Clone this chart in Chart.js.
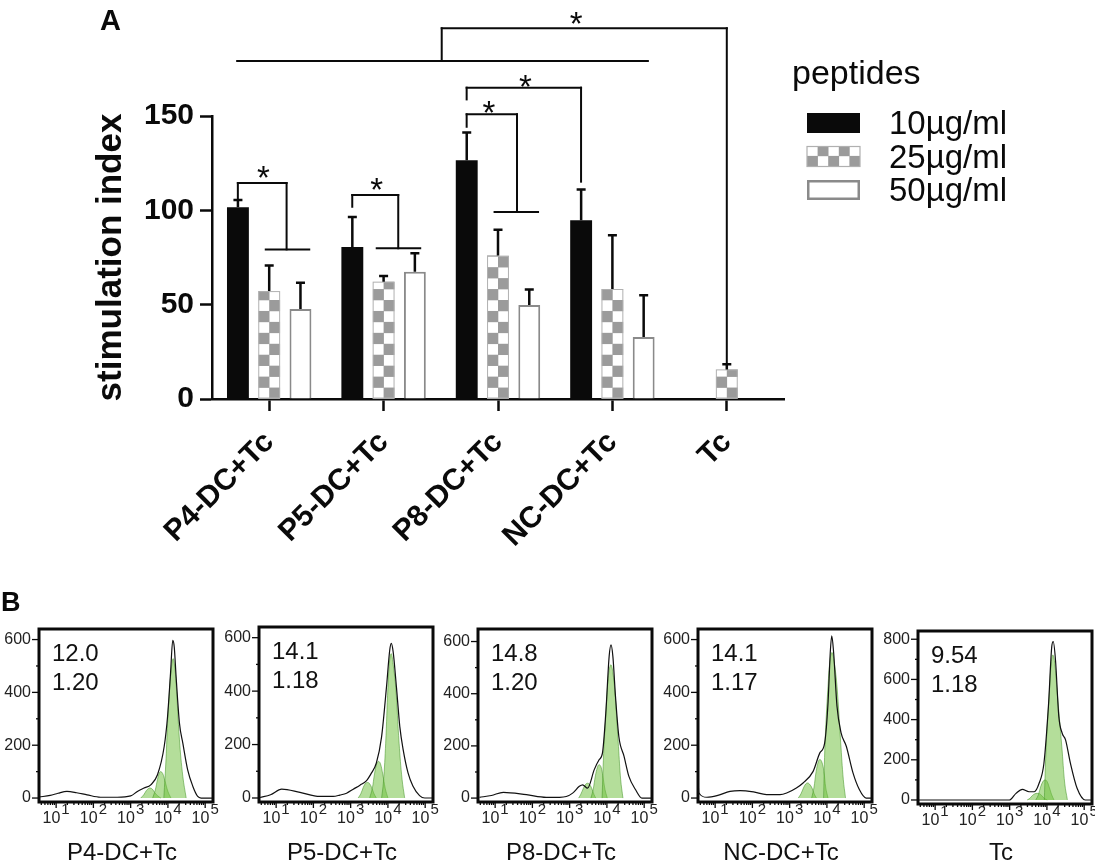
<!DOCTYPE html>
<html>
<head>
<meta charset="utf-8">
<script src="https://cdn.jsdelivr.net/npm/chart.js@4.4.0/dist/chart.umd.min.js"></script>
<style>
html,body{margin:0;padding:0;background:#fff;overflow:hidden;width:1095px;height:868px;}
#wrap{position:relative;width:1095px;height:868px;overflow:hidden;}
canvas{position:absolute;}
</style>
</head>
<body>
<div id="wrap">
<canvas id="cA" width="1095" height="590" style="left:0;top:0;"></canvas>
<canvas id="h0" width="220" height="278" style="left:0;top:590px;"></canvas>
<canvas id="h1" width="220" height="278" style="left:220px;top:590px;"></canvas>
<canvas id="h2" width="220" height="278" style="left:439px;top:590px;"></canvas>
<canvas id="h3" width="220" height="278" style="left:659px;top:590px;"></canvas>
<canvas id="h4" width="220" height="278" style="left:879px;top:590px;"></canvas>
</div>
<script>
// ---------------- DATA: panel A ----------------
const categories = ['P4-DC+Tc', 'P5-DC+Tc', 'P8-DC+Tc', 'NC-DC+Tc', 'Tc'];
const legendTitle = 'peptides';
const seriesNames = ['10µg/ml', '25µg/ml', '50µg/ml'];
const mean10 = [101.6, 80.6, 126.5, 94.7, null];
const mean25 = [57.2, 62.2, 76.0, 58.3, 15.7];
const mean50 = [47.7, 67.5, 49.8, 32.9, null];
const sd10 = [3.9, 15.9, 14.8, 16.4, null];
const sd25 = [13.5, 3.0, 13.7, 28.5, 2.7];
const sd50 = [13.9, 9.7, 8.3, 22.1, null];
const yTicksA = [0, 50, 100, 150];

// significance brackets, in data units (x = category index, y = stimulation index)
const bracketSegments = [
  [-0.274, 105.5, -0.274, 114.5], [-0.274, 114.5, 0.152, 114.5], [0.152, 114.5, 0.152, 79.3], [-0.03, 79.3, 0.35, 79.3],
  [0.726, 101.9, 0.726, 108.1], [0.726, 108.1, 1.128, 108.1], [1.128, 108.1, 1.128, 79.9], [0.94, 79.9, 1.32, 79.9],
  [1.726, 144.3, 1.726, 150.9], [1.726, 150.9, 2.166, 150.9], [2.166, 150.9, 2.166, 99.1], [1.97, 99.1, 2.35, 99.1],
  [1.726, 158.8, 1.726, 165.0], [1.726, 165.0, 2.726, 165.0], [2.726, 165.0, 2.726, 115.2],
  [-0.28, 179.2, 3.31, 179.2], [1.508, 179.2, 1.508, 196.5], [1.508, 196.5, 4.0, 196.5], [4.0, 196.5, 4.0, 18.9]
];
const starMarks = [[-0.05, 121.0], [0.94, 114.6], [1.92, 155.3], [2.24, 169.1], [2.683, 202.6]];

// ---------------- DATA: panel B (x in log10 decades, y = count) ----------------
const histTitles = ['P4-DC+Tc', 'P5-DC+Tc', 'P8-DC+Tc', 'NC-DC+Tc', 'Tc'];
const histStat1 = ['12.0', '14.1', '14.8', '14.1', '9.54'];
const histStat2 = ['1.20', '1.18', '1.20', '1.17', '1.18'];
const decadeTicks = [1, 2, 3, 4, 5];
const decadeSup = ['1', '2', '3', '4', '5'];
const yTicksHist = [0, 200, 400, 600];
const yTicksHistTc = [0, 200, 400, 600, 800];
const yMinorHist = [100, 300, 500];
const yMinorHistTc = [100, 300, 500, 700];

const p4Outline = [[0.55,4],[0.84,10],[1.05,18],[1.29,25],[1.55,20],[1.83,12],[2.19,3],[2.64,3],[3.00,8],[3.18,25],[3.36,38],[3.54,50],[3.72,88],[3.90,195],[3.99,308],[4.07,472],[4.13,597],[4.17,572],[4.22,459],[4.31,283],[4.40,208],[4.53,107],[4.67,44],[4.80,6],[4.89,0],[5.21,0]];
const p4Peaks = [
  [[3.89,0],[3.95,150],[3.99,283],[4.05,420],[4.10,500],[4.14,528],[4.18,500],[4.22,434],[4.31,220],[4.40,82],[4.49,0]],
  [[3.59,0],[3.66,30],[3.72,70],[3.77,95],[3.81,100],[3.86,93],[3.92,65],[4.00,25],[4.08,0]],
  [[3.27,0],[3.35,12],[3.42,28],[3.48,36],[3.52,38],[3.58,34],[3.65,20],[3.73,8],[3.81,0]]
];
const p5Outline = [[0.57,2],[0.85,12],[1.15,33],[1.64,21],[2.17,6],[2.53,6],[2.71,11],[2.89,18],[3.07,33],[3.25,48],[3.42,64],[3.56,94],[3.69,131],[3.83,229],[3.96,413],[4.05,555],[4.09,579],[4.14,548],[4.23,413],[4.32,266],[4.41,180],[4.54,94],[4.67,45],[4.85,9],[4.99,0],[5.21,0]];
const p5Peaks = [
  [[3.83,0],[3.88,60],[3.94,205],[4.00,413],[4.05,520],[4.09,540],[4.14,500],[4.21,413],[4.30,205],[4.38,70],[4.45,0]],
  [[3.51,0],[3.58,35],[3.64,90],[3.70,128],[3.75,137],[3.80,128],[3.86,90],[3.93,35],[4.00,0]],
  [[3.20,0],[3.27,15],[3.34,40],[3.40,55],[3.45,58],[3.50,55],[3.56,40],[3.63,15],[3.69,0]]
];
const p8Outline = [[0.58,3],[0.90,10],[1.22,22],[1.84,13],[2.37,3],[2.73,3],[2.91,6],[3.08,19],[3.26,45],[3.35,51],[3.48,38],[3.66,109],[3.79,147],[3.88,172],[3.97,326],[4.06,543],[4.11,587],[4.16,543],[4.23,390],[4.32,236],[4.46,160],[4.59,83],[4.77,32],[4.94,0],[5.21,0]];
const p8Peaks = [
  [[3.87,0],[3.92,198],[3.96,290],[4.01,415],[4.06,490],[4.11,511],[4.16,480],[4.21,415],[4.31,198],[4.37,70],[4.43,0]],
  [[3.57,0],[3.63,32],[3.69,85],[3.75,120],[3.79,128],[3.84,120],[3.89,85],[3.95,32],[4.01,0]],
  [[3.24,0],[3.30,15],[3.37,38],[3.43,53],[3.48,57],[3.53,53],[3.59,38],[3.65,15],[3.70,0]]
];
const ncOutline = [[0.54,90],[0.56,20],[0.78,3],[1.05,9],[1.40,25],[1.67,28],[2.03,23],[2.38,13],[2.74,13],[2.92,19],[3.18,38],[3.36,57],[3.63,101],[3.81,171],[3.94,209],[4.03,361],[4.09,551],[4.13,614],[4.18,551],[4.27,348],[4.38,247],[4.52,196],[4.70,95],[4.87,32],[5.05,0],[5.21,0]];
const ncPeaks = [
  [[3.91,0],[3.95,209],[4.03,424],[4.09,530],[4.14,551],[4.20,510],[4.27,424],[4.37,209],[4.44,70],[4.50,0]],
  [[3.59,0],[3.65,38],[3.71,100],[3.77,138],[3.81,146],[3.86,138],[3.92,100],[3.97,38],[4.03,0]],
  [[3.23,0],[3.30,15],[3.37,38],[3.43,53],[3.48,57],[3.53,53],[3.60,38],[3.66,15],[3.72,0]]
];
const tcOutline = [[0.54,0],[2.99,0],[3.17,33],[3.34,53],[3.52,41],[3.66,41],[3.79,83],[3.92,183],[4.04,465],[4.13,763],[4.17,788],[4.23,697],[4.32,415],[4.41,332],[4.50,299],[4.63,183],[4.81,58],[5.03,0],[5.21,0]];
const tcPeaks = [
  [[3.93,0],[3.98,265],[4.07,548],[4.12,690],[4.16,722],[4.21,680],[4.27,548],[4.40,265],[4.48,80],[4.55,0]],
  [[3.70,0],[3.77,25],[3.83,65],[3.90,94],[3.95,100],[4.00,94],[4.06,65],[4.13,25],[4.19,0]],
  [[3.47,0],[3.54,8],[3.61,22],[3.68,31],[3.74,33],[3.80,31],[3.86,22],[3.93,8],[4.01,0]]
];

// ---------------- styles / layout ----------------
const F = "'Liberation Sans', Arial, Helvetica, sans-serif";
Chart.defaults.font.family = F;
Chart.defaults.color = '#000';
const BLACK = '#0a0a0a';
const GRAY = '#9b9b9b';
const EDGE = '#8a8a8a';

function catX(xs, f) {
  const p0 = xs.getPixelForValue(0), p1 = xs.getPixelForValue(1);
  return p0 + f * (p1 - p0);
}
function drawChecks(ctx, left, top, w, h, s, startGrayLeft) {
  ctx.save();
  ctx.beginPath(); ctx.rect(left, top, w, h); ctx.clip();
  ctx.fillStyle = '#fff'; ctx.fillRect(left, top, w, h);
  ctx.fillStyle = GRAY;
  let row = 0;
  for (let y = top + h; y > top - s; y -= s, row++) {
    for (let c = 0; c * s < w; c++) {
      if (((row + c) % 2 === 0) === startGrayLeft) ctx.fillRect(left + c * s, y - s, s + 0.3, s + 0.3);
    }
  }
  ctx.restore();
}

const panelAPlugin = {
  id: 'panelA',
  afterDatasetsDraw(chart) {
    const ctx = chart.ctx, ys = chart.scales.y;
    chart.getDatasetMeta(1).data.forEach((bar, i) => {
      if (mean25[i] == null) return;
      const w = bar.width, left = bar.x - w / 2, top = bar.y, h = bar.base - bar.y;
      drawChecks(ctx, left, top, w, h, w / 2, false);
      ctx.save(); ctx.strokeStyle = '#b0b0b0'; ctx.lineWidth = 1;
      ctx.strokeRect(left + 0.5, top + 0.5, w - 1, h - 1); ctx.restore();
    });
    const means = [mean10, mean25, mean50], sds = [sd10, sd25, sd50];
    ctx.save();
    ctx.strokeStyle = BLACK; ctx.lineWidth = 2.5;
    for (let d = 0; d < 3; d++) {
      chart.getDatasetMeta(d).data.forEach((bar, i) => {
        if (means[d][i] == null || sds[d][i] == null) return;
        const yt = ys.getPixelForValue(means[d][i] + sds[d][i]);
        ctx.beginPath();
        ctx.moveTo(bar.x, bar.y); ctx.lineTo(bar.x, yt);
        ctx.moveTo(bar.x - 4.5, yt); ctx.lineTo(bar.x + 4.5, yt);
        ctx.stroke();
      });
    }
    ctx.restore();
  },
  afterDraw(chart) {
    const ctx = chart.ctx, xs = chart.scales.x, ys = chart.scales.y;
    ctx.save();
    ctx.strokeStyle = BLACK; ctx.lineWidth = 2; ctx.lineCap = 'square';
    bracketSegments.forEach(s => {
      ctx.beginPath();
      ctx.moveTo(catX(xs, s[0]), ys.getPixelForValue(s[1]));
      ctx.lineTo(catX(xs, s[2]), ys.getPixelForValue(s[3]));
      ctx.stroke();
    });
    const starSize = 33;
    ctx.fillStyle = BLACK; ctx.font = starSize + 'px ' + F; ctx.textAlign = 'center'; ctx.textBaseline = 'alphabetic';
    starMarks.forEach(s => {
      ctx.fillText('*', catX(xs, s[0]), ys.getPixelForValue(s[1]) + 0.56 * starSize);
    });
    ctx.textAlign = 'left';
    ctx.font = 'bold 29px ' + F;
    ctx.fillText('A', 100, 30);
    ctx.font = '34px ' + F;
    ctx.fillText(legendTitle, 792, 84);
    const boxX = 807, boxW = 53, boxH = 20;
    const rowTop = [113, 146.5, 180];
    ctx.fillStyle = BLACK; ctx.fillRect(boxX, rowTop[0], boxW, boxH);
    drawChecks(ctx, boxX, rowTop[1], boxW, boxH, 10.6, true);
    ctx.strokeStyle = '#b0b0b0'; ctx.lineWidth = 1.2; ctx.strokeRect(boxX, rowTop[1], boxW, boxH);
    ctx.strokeStyle = EDGE; ctx.lineWidth = 2.5; ctx.strokeRect(boxX + 1.25, rowTop[2] + 1.25, boxW - 2.5, boxH - 2.5);
    ctx.fillStyle = BLACK; ctx.font = '33px ' + F;
    seriesNames.forEach((n, i) => ctx.fillText(n, 889, rowTop[i] + 21));
    ctx.restore();
  }
};

new Chart(document.getElementById('cA'), {
  type: 'bar',
  data: {
    labels: categories,
    datasets: [
      { label: seriesNames[0], data: mean10, backgroundColor: BLACK, borderWidth: 0 },
      { label: seriesNames[1], data: mean25, backgroundColor: '#fff', borderWidth: 0 },
      { label: seriesNames[2], data: mean50, backgroundColor: '#fff', borderColor: EDGE, borderWidth: 2, borderSkipped: 'bottom' }
    ]
  },
  options: {
    responsive: false,
    animation: false,
    events: [],
    layout: { padding: { left: 90, top: 116, right: 311, bottom: 0 } },
    datasets: { bar: { categoryPercentage: 0.82, barPercentage: 0.70 } },
    plugins: { legend: { display: false }, tooltip: { enabled: false } },
    scales: {
      x: {
        afterFit: s => { s.height = 191; },
        grid: { offset: false, drawOnChartArea: false, drawTicks: true, tickLength: 12, tickWidth: 2.5, tickColor: BLACK },
        border: { display: true, color: BLACK, width: 2.5 },
        ticks: { font: { family: F, size: 30, weight: 'bold' }, color: BLACK, minRotation: 45, maxRotation: 45, padding: 14, autoSkip: false }
      },
      y: {
        min: 0, max: 150,
        afterBuildTicks: s => { s.ticks = yTicksA.map(v => ({ value: v })); },
        afterFit: s => { s.width = 122; },
        grid: { drawOnChartArea: false, drawTicks: true, tickLength: 12, tickWidth: 2.5, tickColor: BLACK },
        border: { display: true, color: BLACK, width: 2.5 },
        ticks: { font: { family: F, size: 30, weight: 'bold' }, color: BLACK, padding: 6 },
        title: { display: true, text: 'stimulation index', font: { family: F, size: 35, weight: 'bold' }, color: BLACK, padding: { top: 0, bottom: 0 } }
      }
    }
  },
  plugins: [panelAPlugin]
});

// ---------------- panel B ----------------
const histOutlines = [p4Outline, p5Outline, p8Outline, ncOutline, tcOutline];
const histPeaks = [p4Peaks, p5Peaks, p8Peaks, ncPeaks, tcPeaks];
const frameLeft = 39, frameW = 174;
const frameTops = [39, 37, 39, 39, 41];
const frameBottoms = [212, 212, 212, 212, 214];
const yMaxes = [640, 640, 648, 640, 841];
const yMins = [-15, -15, -15, -15, -20];

function toPts(arr) { return arr.map(p => ({ x: p[0], y: p[1] })); }

function makeHistPlugin(k) {
  return {
    id: 'histDeco' + k,
    afterDraw(chart) {
      const ctx = chart.ctx, ca = chart.chartArea, xs = chart.scales.x, ys = chart.scales.y;
      ctx.save();
      ctx.strokeStyle = BLACK; ctx.fillStyle = '#222';
      ctx.lineWidth = 3;
      ctx.strokeRect(ca.left, ca.top, ca.right - ca.left, ca.bottom - ca.top);
      const yt = k === 4 ? yTicksHistTc : yTicksHist;
      const ym = k === 4 ? yMinorHistTc : yMinorHist;
      ctx.lineWidth = 1.3;
      ctx.font = '16px ' + F; ctx.textAlign = 'right'; ctx.textBaseline = 'middle';
      yt.forEach(v => {
        const y = ys.getPixelForValue(v);
        ctx.beginPath(); ctx.moveTo(ca.left - 7, y); ctx.lineTo(ca.left, y); ctx.stroke();
        ctx.fillText(String(v), ca.left - 8, y);
      });
      ym.forEach(v => {
        const y = ys.getPixelForValue(v);
        ctx.beginPath(); ctx.moveTo(ca.left - 3, y); ctx.lineTo(ca.left, y); ctx.stroke();
      });
      for (let d = 0; d <= 4; d++) {
        for (let m = 2; m <= 9; m++) {
          const v = d + Math.log10(m);
          if (v < xs.min || v > xs.max) continue;
          const x = xs.getPixelForValue(v);
          ctx.beginPath(); ctx.moveTo(x, ca.bottom); ctx.lineTo(x, ca.bottom + 3); ctx.stroke();
        }
      }
      ctx.textAlign = 'left'; ctx.textBaseline = 'alphabetic';
      decadeTicks.forEach((v, i) => {
        const x = xs.getPixelForValue(v);
        ctx.beginPath(); ctx.moveTo(x, ca.bottom); ctx.lineTo(x, ca.bottom + 6); ctx.stroke();
        ctx.font = '16px ' + F;
        const w1 = ctx.measureText('10').width;
        ctx.font = '15px ' + F;
        const w2 = ctx.measureText(decadeSup[i]).width;
        const sx = x - (w1 + w2 + 1) / 2;
        ctx.font = '16px ' + F;
        ctx.fillText('10', sx, ca.bottom + 21);
        ctx.font = '15px ' + F;
        ctx.fillText(decadeSup[i], sx + w1 + 1, ca.bottom + 12);
      });
      ctx.fillStyle = '#111';
      ctx.font = '24px ' + F;
      ctx.fillText(histStat1[k], ca.left + 13, ca.top + 32);
      ctx.fillText(histStat2[k], ca.left + 13, ca.top + 61);
      ctx.textAlign = 'center';
      ctx.font = '24px ' + F;
      ctx.fillText(histTitles[k], (ca.left + ca.right) / 2 - 4, 270);
      if (k === 0) {
        ctx.textAlign = 'left';
        ctx.fillStyle = BLACK;
        ctx.font = 'bold 27px ' + F;
        ctx.fillText('B', 1, 21);
      }
      ctx.restore();
    }
  };
}

for (let k = 0; k < 5; k++) {
  const peakSets = histPeaks[k].map(pk => ({
    data: toPts(pk),
    borderColor: 'rgba(70,150,40,0.55)',
    borderWidth: 1,
    backgroundColor: 'rgba(112,192,62,0.52)',
    fill: { value: 0 },
    tension: 0.4,
    pointRadius: 0
  }));
  const canvasW = 220;
  new Chart(document.getElementById('h' + k), {
    type: 'line',
    data: {
      datasets: [
        { data: toPts(histOutlines[k]), borderColor: '#111', borderWidth: 1.2, fill: false, cubicInterpolationMode: 'monotone', pointRadius: 0 }
      ].concat(peakSets)
    },
    options: {
      responsive: false,
      animation: false,
      events: [],
      layout: { padding: { left: frameLeft, top: frameTops[k], right: canvasW - frameLeft - frameW, bottom: 278 - frameBottoms[k] } },
      plugins: { legend: { display: false }, tooltip: { enabled: false } },
      scales: {
        x: { type: 'linear', display: false, min: 0.54, max: 5.21 },
        y: { type: 'linear', display: false, min: yMins[k], max: yMaxes[k] }
      }
    },
    plugins: [makeHistPlugin(k)]
  });
}
</script>
</body>
</html>
